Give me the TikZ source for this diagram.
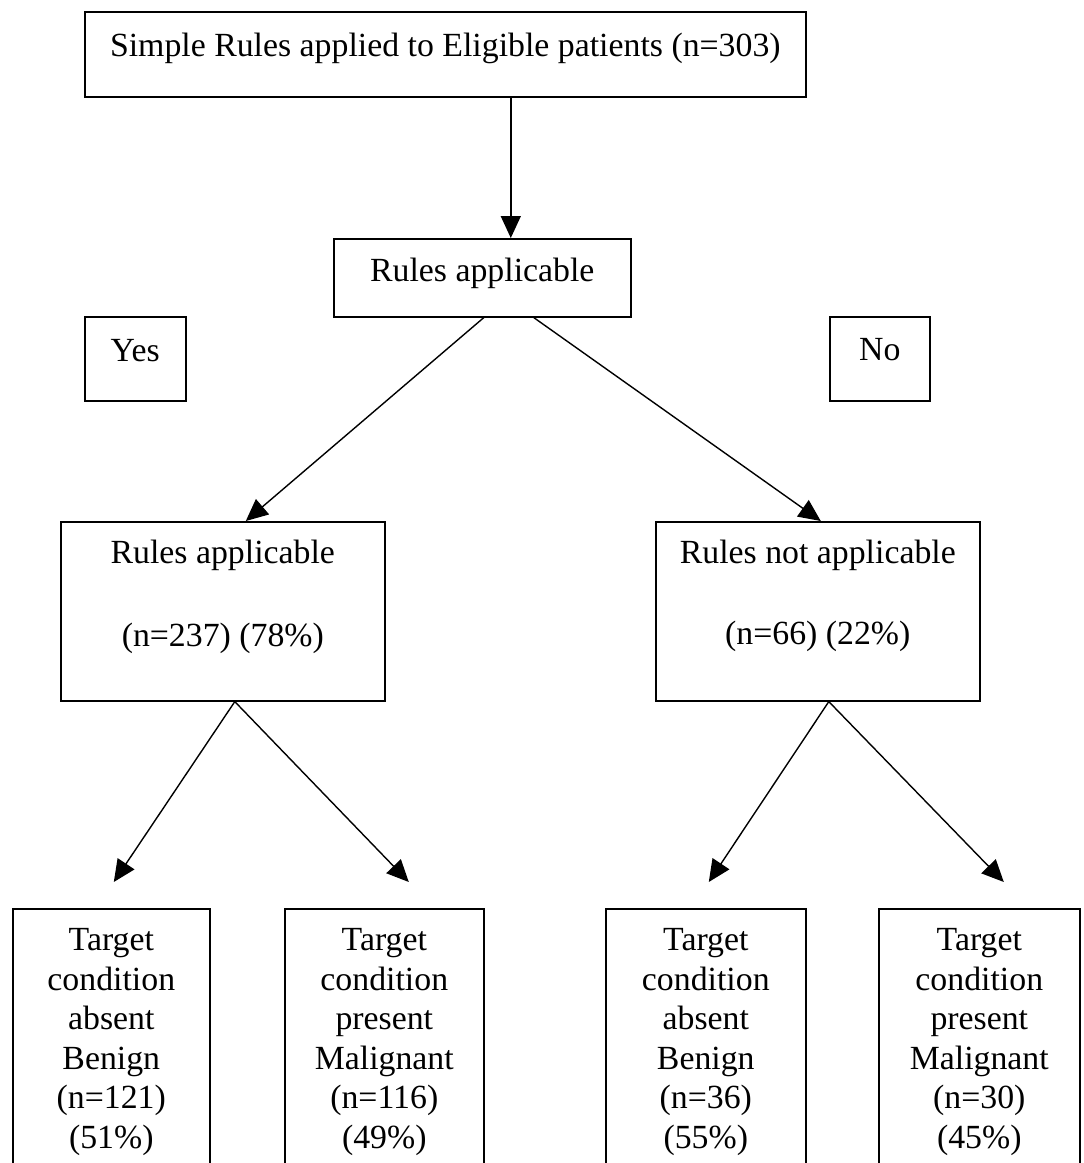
\documentclass[tikz,border=0pt]{standalone}
\usepackage{fontspec}
\setmainfont{Liberation Serif}
\usetikzlibrary{arrows.meta}
\begin{document}
\begin{tikzpicture}[x=1pt,y=-1pt,
  box/.style={draw,line width=1.6pt,inner sep=0pt,anchor=north west},
  txt/.style={font=\fontsize{33.8}{39.5}\selectfont,align=center,inner sep=0pt,anchor=base},
  arr/.style={line width=1.4pt,-{Triangle[length=22pt,width=20pt]}}]
\useasboundingbox (0,0) rectangle (1084,1163);
\clip (0,0) rectangle (1084,1163);
\fill[white] (0,0) rectangle (1084,1163);

% boxes
\node[box,minimum width=721pt,minimum height=85pt] (top) at (84,11) {};
\node[box,minimum width=297pt,minimum height=78pt] (rq) at (333,238) {};
\node[box,minimum width=101pt,minimum height=84pt] (yes) at (84,316) {};
\node[box,minimum width=100pt,minimum height=84pt] (no) at (829,316) {};
\node[box,minimum width=324pt,minimum height=179pt] (ra) at (60,521) {};
\node[box,minimum width=324pt,minimum height=179pt] (rn) at (655,521) {};
\node[box,minimum width=197pt,minimum height=320pt] (b1) at (12,908) {};
\node[box,minimum width=199pt,minimum height=320pt] (b2) at (284,908) {};
\node[box,minimum width=200pt,minimum height=320pt] (b3) at (605,908) {};
\node[box,minimum width=201pt,minimum height=320pt] (b4) at (878,908) {};

% texts (multi-line nodes sit on the baseline of their last line)
\node[txt] (ttop) at (top.north |- 0,56) {Simple Rules applied to Eligible patients (n=303)};
\node[txt] (trq) at (rq.north |- 0,281) {Rules applicable};
\node[txt] (tyes) at (yes.north |- 0,361) {Yes};
\node[txt] (tno) at (no.north |- 0,360) {No};
\node[txt] (tra) at (ra.north |- 0,646) {Rules applicable\\[43.5pt](n=237) (78\%)};
\node[txt] (trn) at (rn.north |- 0,644) {Rules not applicable\\[41.5pt](n=66) (22\%)};
\node[txt] (tb1) at (b1.north |- 0,1148) {Target\\condition\\absent\\Benign\\(n=121)\\(51\%)};
\node[txt] (tb2) at (b2.north |- 0,1148) {Target\\condition\\present\\Malignant\\(n=116)\\(49\%)};
\node[txt] (tb3) at (b3.north |- 0,1148) {Target\\condition\\absent\\Benign\\(n=36)\\(55\%)};
\node[txt] (tb4) at (b4.north |- 0,1148) {Target\\condition\\present\\Malignant\\(n=30)\\(45\%)};

% connectors
\draw[arr] ([xshift=65.5pt]top.south) -- ([xshift=28.5pt]rq.north);
\draw[arr] ([xshift=1.5pt]rq.south) -- ([xshift=23pt]ra.north);
\draw[arr] ([xshift=51.5pt]rq.south) -- ([xshift=3pt]rn.north);
\draw[arr] ([xshift=12pt]ra.south) -- ([xshift=2.5pt,yshift=26pt]b1.north);
\draw[arr] ([xshift=12pt]ra.south) -- ([xshift=24.5pt,yshift=26pt]b2.north);
\draw[arr] ([xshift=11pt]rn.south) -- ([xshift=3pt,yshift=26pt]b3.north);
\draw[arr] ([xshift=11pt]rn.south) -- ([xshift=24.5pt,yshift=26pt]b4.north);
\end{tikzpicture}
\end{document}
